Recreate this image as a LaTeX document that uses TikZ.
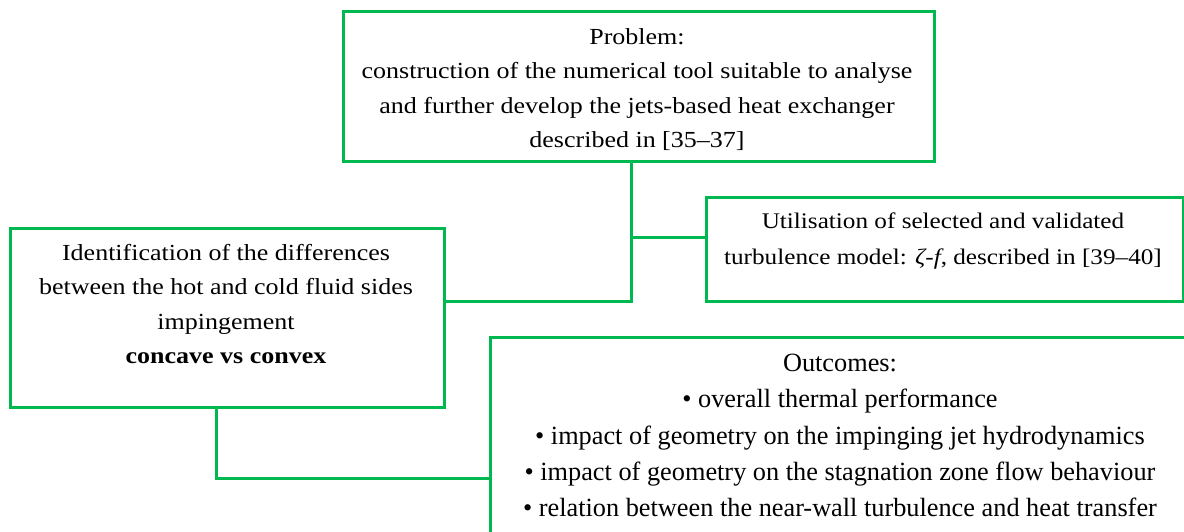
\documentclass[tikz,border=0pt]{standalone}
\usepackage{fontspec}
\setmainfont{Liberation Serif}[FakeStretch=1.13]
\newfontfamily\condfont{Liberation Serif}
\definecolor{lgreen}{RGB}{0,184,80}
\tikzset{
  box/.style={draw=lgreen, line width=3pt, rectangle, inner sep=0pt, anchor=north west},
  conn/.style={draw=lgreen, line width=3pt},
  txt/.style={align=center, inner sep=0pt, anchor=north, font=\fontsize{23}{34.5}\selectfont},
  otxt/.style={align=center, inner sep=0pt, anchor=north, font=\condfont\fontsize{26.3}{36.2}\selectfont}
}
\begin{document}
\begin{tikzpicture}[x=1pt,y=-1pt]
\useasboundingbox (0,0) rectangle (1184,531);
\clip (0,0) rectangle (1184,531);
% boxes
\node[box, minimum width=591pt, minimum height=150pt] (prob) at (342,10) {};
\node[box, minimum width=434pt, minimum height=179pt] (ident) at (9,227) {};
\node[box, minimum width=477pt, minimum height=104pt] (util) at (705,196) {};
\node[box, minimum width=750pt, minimum height=260pt] (outc) at (489,336) {};
% texts
\node[txt] (tprob) at (637,28) {Problem:\\construction of the numerical tool suitable to analyse\\and further develop the jets-based heat exchanger\\described in [35–37]};
\node[txt] (tident) at (226,244) {Identification of the differences\\between the hot and cold fluid sides\\impingement\\\textbf{concave vs convex}};
\node[txt, font=\fontsize{22.3}{35.5}\selectfont] (tutil) at (943,213) {Utilisation of selected and validated\\turbulence model: \textit{ζ-f},\ described in [39–40]};
\node[otxt] (toutc) at (840,354) {Outcomes:\\• overall thermal performance\\• impact of geometry on the impinging jet hydrodynamics\\• impact of geometry on the stagnation zone flow behaviour\\• relation between the near-wall turbulence and heat transfer};
% connectors
\coordinate (j1) at (631,301);
\coordinate (j2) at (631,237);
\coordinate (j3) at (216,478);
\draw[conn] (prob.south -| j1) |- (ident.east |- j1);
\draw[conn] (j2) -- (util.west |- j2);
\draw[conn] (ident.south -| j3) |- (outc.west |- j3);
\end{tikzpicture}
\end{document}
